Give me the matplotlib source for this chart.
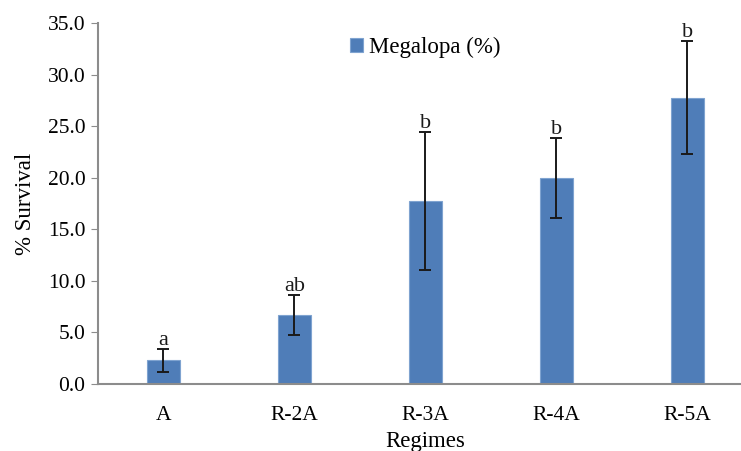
import matplotlib
matplotlib.use("Agg")
import matplotlib.pyplot as plt

regimes = ["A", "R-2A", "R-3A", "R-4A", "R-5A"]
survival = [2.3, 6.7, 17.8, 20.0, 27.8]
errors = [1.1, 1.95, 6.7, 3.85, 5.5]
letters = ["a", "ab", "b", "b", "b"]

plt.rcParams["font.family"] = ["Liberation Serif", "DejaVu Serif"]
plt.rcParams["font.size"] = 15.5

fig = plt.figure(figsize=(7.41, 4.51), dpi=100)
ax = fig.add_axes([0.132, 0.1486, 0.884, 0.7993])

x = range(len(regimes))
ax.bar(x, survival, width=0.25, color="#4f7db8", edgecolor="#7fa3d0", linewidth=0.8,
       label="Megalopa (%)", zorder=2)
ax.errorbar(x, survival, yerr=errors, fmt="none", ecolor="#1a1a1a", elinewidth=1.4,
            capsize=4, capthick=1.4, zorder=3)
for i in x:
    ax.text(i, survival[i] + errors[i] - 0.1, letters[i], ha="center", va="bottom",
            fontsize=16, color="#1a1a1a")

ax.set_xlim(-0.5, 4.5)
ax.set_ylim(0, 35)
ax.set_yticks([0, 5, 10, 15, 20, 25, 30, 35])
ax.set_yticklabels([f"{v:.1f}" for v in [0, 5, 10, 15, 20, 25, 30, 35]])
ax.set_xticks(list(x))
ax.set_xticklabels(regimes)
ax.tick_params(axis="x", length=0, pad=16)
ax.tick_params(axis="y", length=5, color="#8c8c8c", pad=4)

for s in ["top", "right"]:
    ax.spines[s].set_visible(False)
for s in ["left", "bottom"]:
    ax.spines[s].set_color("#8c8c8c")
    ax.spines[s].set_linewidth(1.5)

ax.set_ylabel("% Survival", fontsize=16.5, labelpad=8)
ax.set_xlabel("Regimes", fontsize=16.5, labelpad=4)

ax.legend(loc="upper center", bbox_to_anchor=(0.50, 1.02), frameon=False,
          handlelength=0.55, handleheight=0.55, handletextpad=0.25, fontsize=16.5)

fig.savefig("out.png", dpi=100)
